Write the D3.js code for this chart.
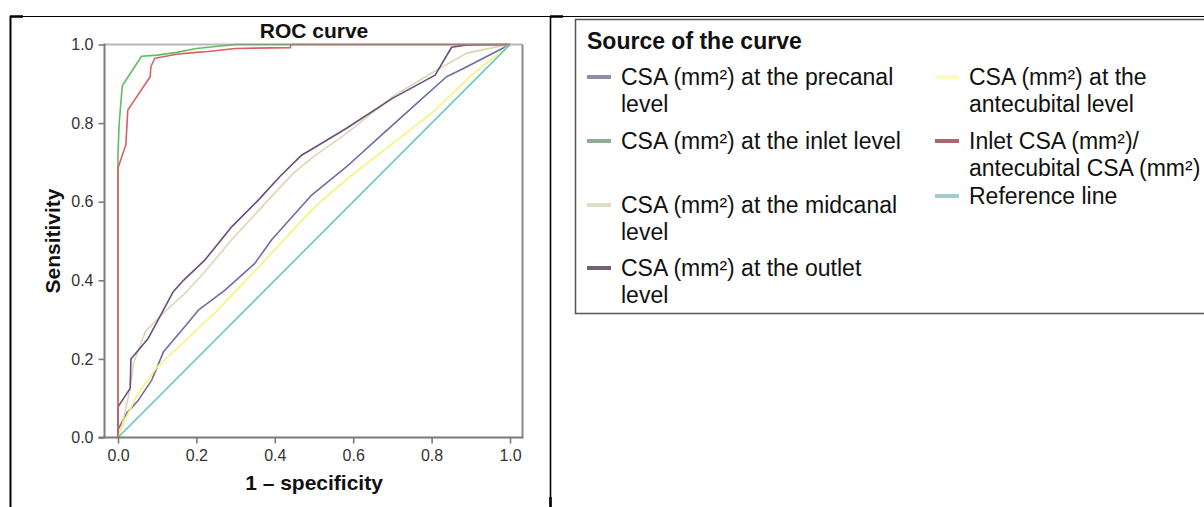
<!DOCTYPE html>
<html>
<head>
<meta charset="utf-8">
<script src="https://cdn.jsdelivr.net/npm/d3@7/dist/d3.min.js"></script>
<style>
  html, body { margin: 0; padding: 0; background: #fff; }
  svg { display: block; font-family: "Liberation Sans", Arial, sans-serif; }
</style>
</head>
<body>
<svg id="chart" width="1204" height="507"></svg>
<script>
// ---- data ----
var xTicks = [0, 0.2, 0.4, 0.6, 0.8, 1.0];
var yTicks = [0, 0.2, 0.4, 0.6, 0.8, 1.0];

var precanal = [[0,0],[0,0.02],[0.022,0.062],[0.052,0.095],[0.086,0.146],[0.116,0.218],[0.167,0.278],[0.205,0.324],[0.273,0.375],[0.349,0.443],[0.392,0.503],[0.494,0.617],[0.583,0.689],[0.677,0.774],[0.753,0.842],[0.838,0.918],[0.881,0.939],[1,1]];
var inlet = [[0,0],[0,0.72],[0.003,0.8],[0.011,0.895],[0.06,0.97],[0.1,0.973],[0.15,0.98],[0.2,0.99],[0.3,1],[1,1]];
var midcanal = [[0,0],[0.01,0.03],[0.03,0.12],[0.04,0.19],[0.07,0.27],[0.09,0.29],[0.13,0.33],[0.171,0.367],[0.22,0.42],[0.29,0.503],[0.383,0.604],[0.447,0.672],[0.498,0.714],[0.583,0.774],[0.70,0.867],[0.813,0.935],[0.89,0.978],[0.966,0.994],[1,1]];
var outlet = [[0,0],[0,0.078],[0.031,0.125],[0.033,0.2],[0.077,0.252],[0.141,0.371],[0.167,0.40],[0.222,0.452],[0.29,0.536],[0.358,0.604],[0.413,0.664],[0.469,0.719],[0.49,0.731],[0.583,0.787],[0.70,0.863],[0.809,0.922],[0.851,0.993],[0.89,0.999],[1,1]];
var antecubital = [[0,0],[0.02,0.05],[0.05,0.11],[0.1,0.18],[0.17,0.245],[0.25,0.32],[0.36,0.435],[0.43,0.51],[0.5,0.585],[0.58,0.655],[0.69,0.74],[0.8,0.825],[0.9,0.92],[1,1]];
var ratio = [[0,0],[0,0.686],[0.02,0.745],[0.025,0.833],[0.082,0.918],[0.084,0.944],[0.094,0.965],[0.15,0.975],[0.2,0.98],[0.23,0.982],[0.3,0.99],[0.44,0.992],[0.44,1],[1,1]];
var reference = [[0,0],[1,1]];

var seriesData = [precanal, inlet, midcanal, outlet, antecubital, ratio, reference];
var lineColors = ["#6c6ca6", "#5fbf62", "#d8d8b6", "#6a4d7a", "#f4f47a", "#d9605f", "#66c6c6"];
var swatchColors = ["#8e8eaa", "#8fab93", "#dedec6", "#6f6278", "#fbfbc8", "#a8686f", "#a6cbcb"];

// legend text, one array per line break
var legendLabels = [
  ["CSA (mm²) at the precanal", "level"],
  ["CSA (mm²) at the inlet level"],
  ["CSA (mm²) at the midcanal", "level"],
  ["CSA (mm²) at the outlet", "level"],
  ["CSA (mm²) at the", "antecubital level"],
  ["Inlet CSA (mm²)/", "antecubital CSA (mm²)"],
  ["Reference line"]
];

// ---- layout ----
var svg = d3.select("#chart");
var plot = { left: 104.5, right: 522.5, top: 44.5, bottom: 437.5 };

var x = d3.scaleLinear().domain([0, 1]).range([118, 510]);
var y = d3.scaleLinear().domain([0, 1]).range([plot.bottom, plot.top]);

// page frame lines
var frame = svg.append("g").attr("stroke", "#000");
frame.append("line").attr("x1", 10).attr("x2", 1204).attr("y1", 16.5).attr("y2", 16.5).attr("stroke-width", 1);
frame.append("line").attr("x1", 10).attr("x2", 23).attr("y1", 16.5).attr("y2", 16.5).attr("stroke-width", 2.5);
frame.append("line").attr("x1", 550).attr("x2", 563).attr("y1", 16.5).attr("y2", 16.5).attr("stroke-width", 2.5);
frame.append("line").attr("x1", 10.5).attr("x2", 10.5).attr("y1", 16).attr("y2", 507).attr("stroke-width", 2);
frame.append("line").attr("x1", 550.5).attr("x2", 550.5).attr("y1", 16).attr("y2", 507).attr("stroke-width", 1.6);
frame.append("line").attr("x1", 550.5).attr("x2", 550.5).attr("y1", 497).attr("y2", 507).attr("stroke-width", 2.5);

// axes
var axisColor = "#7a7a7a";
var xAxis = svg.append("g")
  .attr("transform", "translate(0," + plot.bottom + ")")
  .call(d3.axisBottom(x).tickValues(xTicks).tickFormat(d3.format(".1f")).tickSize(6).tickPadding(6));
var yAxis = svg.append("g")
  .attr("transform", "translate(" + plot.left + ",0)")
  .call(d3.axisLeft(y).tickValues(yTicks).tickFormat(d3.format(".1f")).tickSize(6).tickPadding(5));

[xAxis, yAxis].forEach(function (ax) {
  ax.select(".domain").remove();
  ax.selectAll(".tick line").attr("stroke", axisColor).attr("stroke-width", 1.6);
  ax.selectAll(".tick text")
    .attr("fill", "#333")
    .style("font-size", "16px")
    .style("font-family", "'Liberation Sans', Arial, sans-serif");
});

// curves
var line = d3.line()
  .x(function (d) { return x(d[0]); })
  .y(function (d) { return y(d[1]); });

svg.append("g")
  .selectAll("path")
  .data(seriesData)
  .enter()
  .append("path")
  .attr("d", line)
  .attr("fill", "none")
  .attr("stroke", function (d, i) { return lineColors[i]; })
  .attr("stroke-width", 1.6)
  .attr("stroke-linejoin", "round");

// plot frame (top/right are lighter)
var box = svg.append("g").attr("fill", "none");
box.append("line").attr("x1", plot.left).attr("x2", plot.right).attr("y1", plot.top).attr("y2", plot.top)
  .attr("stroke", "#8a8a8a").attr("stroke-width", 2).attr("stroke-opacity", 0.6);
box.append("line").attr("x1", plot.right).attr("x2", plot.right).attr("y1", plot.top).attr("y2", plot.bottom)
  .attr("stroke", "#8a8a8a").attr("stroke-width", 2);
box.append("line").attr("x1", plot.left).attr("x2", plot.left).attr("y1", plot.top - 1).attr("y2", plot.bottom + 1)
  .attr("stroke", axisColor).attr("stroke-width", 2);
box.append("line").attr("x1", plot.left - 6).attr("x2", plot.right + 1).attr("y1", plot.bottom).attr("y2", plot.bottom)
  .attr("stroke", axisColor).attr("stroke-width", 2);

// titles
svg.append("text")
  .attr("x", (x(0) + x(1)) / 2).attr("y", 37.5)
  .attr("text-anchor", "middle")
  .style("font-size", "21px").style("font-weight", "bold").attr("fill", "#111")
  .text("ROC curve");
svg.append("text")
  .attr("x", (x(0) + x(1)) / 2).attr("y", 489.5)
  .attr("text-anchor", "middle")
  .style("font-size", "21px").style("font-weight", "bold").attr("fill", "#111")
  .text("1 – specificity");
svg.append("text")
  .attr("transform", "translate(59.5," + ((plot.top + plot.bottom) / 2) + ") rotate(-90)")
  .attr("text-anchor", "middle")
  .style("font-size", "21px").style("font-weight", "bold").attr("fill", "#111")
  .text("Sensitivity");

// legend
var legend = svg.append("g");
legend.append("rect")
  .attr("x", 575.5).attr("y", 19.5).attr("width", 700).attr("height", 294)
  .attr("fill", "#fff").attr("stroke", "#555").attr("stroke-width", 1.5);
legend.append("text")
  .attr("x", 587).attr("y", 49)
  .style("font-size", "23px").style("font-weight", "bold").attr("fill", "#111")
  .text("Source of the curve");

// slot: [column x of swatch, centre y of first text line]
var legendSlots = [[587, 77], [587, 141], [587, 205], [587, 268], [935, 77], [935, 141], [935, 196]];
var lineGap = 27;

legendLabels.forEach(function (lines, i) {
  var s = legendSlots[i];
  var item = legend.append("g");
  item.append("line")
    .attr("x1", s[0]).attr("x2", s[0] + 24)
    .attr("y1", s[1]).attr("y2", s[1])
    .attr("stroke", swatchColors[i]).attr("stroke-width", 4);
  lines.forEach(function (t, k) {
    item.append("text")
      .attr("x", s[0] + 34).attr("y", s[1] + k * lineGap)
      .attr("dy", "0.35em")
      .style("font-size", "23px").attr("fill", "#111")
      .text(t);
  });
});
</script>
</body>
</html>
